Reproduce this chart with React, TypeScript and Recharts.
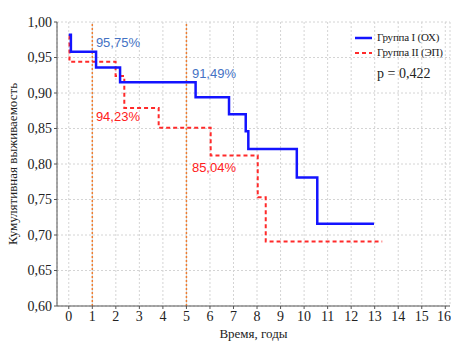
import { LineChart, Line, XAxis, YAxis, CartesianGrid, ReferenceLine, ReferenceDot, Label } from 'recharts';

// Kaplan-Meier steps (time in years, survival)
const group1Times = [0, 0.09, 1.16, 2.18, 5.39, 6.81, 7.52, 7.63, 9.69, 10.56, 12.97];
const group1Surv = [0.982, 0.958, 0.936, 0.915, 0.894, 0.870, 0.846, 0.821, 0.781, 0.716, 0.716];

const group2Times = [0, 0.03, 1.99, 2.36, 3.82, 6.03, 8.03, 8.37, 13.32];
const group2Surv = [0.98, 0.944, 0.924, 0.879, 0.851, 0.812, 0.753, 0.691, 0.691];

const xTicks = [0, 1, 2, 3, 4, 5, 6, 7, 8, 9, 10, 11, 12, 13, 14, 15, 16];
const yTicks = [0.6, 0.65, 0.7, 0.75, 0.8, 0.85, 0.9, 0.95, 1.0];
const markers = [1, 5];

const annoText = ['95,75%', '91,49%', '94,23%', '85,04%'];
const annoX = [2.09, 6.17, 2.09, 6.17];
const annoY = [0.9718, 0.928, 0.8676, 0.7958];
const annoGroup = [1, 1, 2, 2];

const group1 = group1Times.map((t, i) => ({ t, s: group1Surv[i] }));
const group2 = group2Times.map((t, i) => ({ t, s: group2Surv[i] }));

const BLUE = '#1414ff';
const RED = '#ff2a2a';
const serif = '"Liberation Serif", "DejaVu Serif", serif';
const sans = '"Liberation Sans", Arial, sans-serif';

const fmt = (v: number) => v.toFixed(2).replace('.', ',');

export default function App() {
  return (
    <div style={{ position: 'absolute', left: 0, top: 0, width: 451, height: 344, background: '#fff' }}>
      <LineChart width={451} height={344} margin={{ top: 22, right: 1, left: 12, bottom: 14 }}>
        <CartesianGrid stroke="#d4d4d4" strokeDasharray="2 2" />
        <XAxis
          type="number"
          dataKey="t"
          domain={[-0.5, 16.2]}
          ticks={xTicks}
          allowDataOverflow
          height={24}
          tickSize={3}
          stroke="#555"
          tick={{ fill: '#222', fontSize: 14, fontFamily: serif }}
        >
          <Label value="Время, годы" position="insideBottom" offset={-8} style={{ fill: '#222', fontSize: 13, fontFamily: serif }} />
        </XAxis>
        <YAxis
          type="number"
          domain={[0.6, 1.0]}
          ticks={yTicks}
          tickFormatter={fmt}
          width={45}
          tickSize={3}
          stroke="#555"
          tick={{ fill: '#222', fontSize: 14, fontFamily: serif }}
        >
          <Label value="Кумулятивная выживаемость" angle={-90} position="insideLeft" offset={0} style={{ textAnchor: 'middle', fill: '#222', fontSize: 13, fontFamily: serif }} />
        </YAxis>
        {markers.map((m) => (
          <ReferenceLine key={m} x={m} stroke="#ed7d31" strokeDasharray="2 2" strokeWidth={1.5} />
        ))}
        <Line data={group2} dataKey="s" type="stepAfter" stroke={RED} strokeWidth={2} strokeDasharray="4 3" dot={false} isAnimationActive={false} />
        <Line data={group1} dataKey="s" type="stepAfter" stroke={BLUE} strokeWidth={2.5} dot={false} isAnimationActive={false} />
        {annoText.map((txt, i) => (
          <ReferenceDot
            key={txt}
            x={annoX[i]}
            y={annoY[i]}
            r={0}
            stroke="none"
            fill="none"
            label={{ value: txt, position: 'center', fill: annoGroup[i] === 1 ? '#4472c4' : '#ff2020', fontSize: 13, fontFamily: sans }}
          />
        ))}
      </LineChart>
      <div style={{ position: 'absolute', left: 355, top: 30, fontFamily: serif, fontSize: 11, color: '#222', lineHeight: '15px', whiteSpace: 'nowrap', letterSpacing: -0.2 }}>
        <div style={{ display: 'flex', alignItems: 'center' }}>
          <svg width={17} height={4} style={{ marginRight: 5 }}><line x1={0} y1={2} x2={17} y2={2} stroke={BLUE} strokeWidth={2.5} /></svg>
          Группа I (ОХ)
        </div>
        <div style={{ display: 'flex', alignItems: 'center' }}>
          <svg width={17} height={4} style={{ marginRight: 5 }}><line x1={0} y1={2} x2={17} y2={2} stroke={RED} strokeWidth={2} strokeDasharray="4 3" /></svg>
          Группа II (ЭП)
        </div>
        <div style={{ marginTop: 6, marginLeft: 22, fontSize: 14, letterSpacing: 0 }}>p = 0,422</div>
      </div>
    </div>
  );
}
